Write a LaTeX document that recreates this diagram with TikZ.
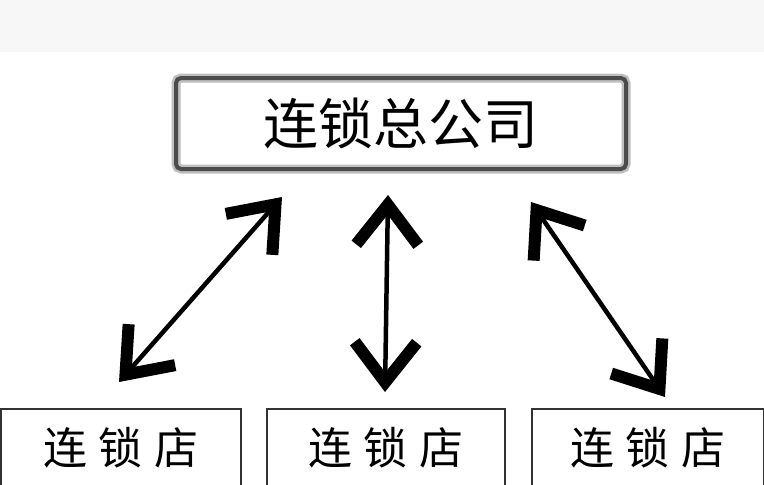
\documentclass[tikz,border=0pt]{standalone}
\usepackage{fontspec}
\newfontfamily\cjk{Noto Sans CJK SC}
\usetikzlibrary{arrows.meta}
\begin{document}
\begin{tikzpicture}[x=1pt, y=-1pt,
    hq/.style={draw=black!70, line width=4pt, rounded corners=5pt,
        preaction={draw=black!25, line width=9pt},
        minimum width=450pt, minimum height=91pt, inner sep=0pt,
        font=\cjk\fontsize{55}{55}\selectfont},
    shop/.style={draw=black!80, line width=2pt, minimum height=78pt,
        inner sep=0pt, font=\cjk\fontsize{44}{44}\selectfont},
    barb/.tip={Straight Barb[length=40pt, width=62pt, line width=12pt]},
    link/.style={line width=4.5pt, barb-barb}]
    \clip (0,0) rectangle (764,485);
    \fill[black!3] (0,0) rectangle (764,52);

    \node[hq] (hq) at (401,123.5) {连锁总公司};

    \node[shop, minimum width=240pt] (shop1) at (121,448) {连\hspace{12pt}锁\hspace{12pt}店};
    \node[shop, minimum width=238pt] (shop2) at (386,448) {连\hspace{12pt}锁\hspace{12pt}店};
    \node[shop, minimum width=232pt] (shop3) at (648,448) {连\hspace{12pt}锁\hspace{12pt}店};

    % arrow ends
    \coordinate (hq-l) at (282,197);
    \coordinate (hq-m) at (388,195);
    \coordinate (hq-r) at (531,202);
    \coordinate (shop1-t) at (119,382);
    \coordinate (shop2-t) at (385,392);
    \coordinate (shop3-t) at (665,397);

    \draw[link] (shop1-t) -- (hq-l);
    \draw[link] (shop2-t) -- (hq-m);
    \draw[link] (shop3-t) -- (hq-r);
\end{tikzpicture}
\end{document}
